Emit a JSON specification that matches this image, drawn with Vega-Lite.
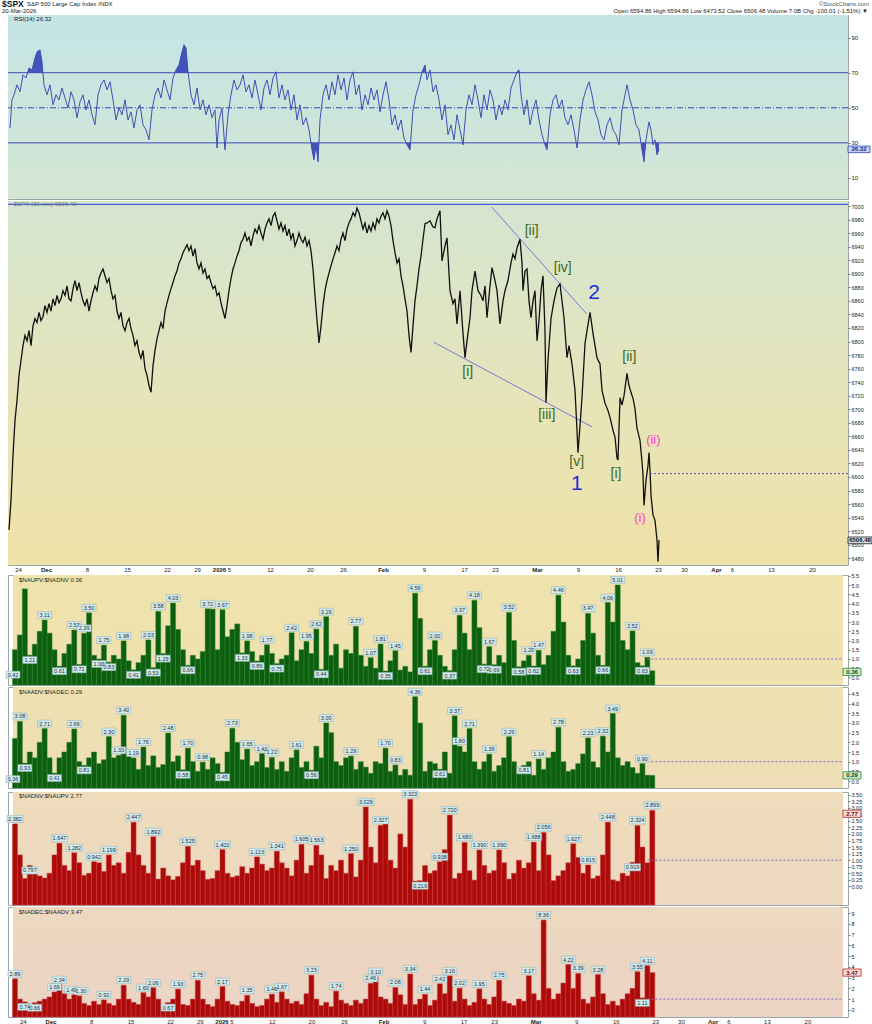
{
"$schema": "https://vega.github.io/schema/vega-lite/v6.json",
"background": "white",
"padding": {"left": 2, "top": 0, "right": 0, "bottom": 0},
"spacing": 0,
"config": {"font": "Liberation Sans", "view": {"stroke": "#98a6a6", "strokeWidth": 1}},
"resolve": {"scale": {"x": "independent", "y": "independent"}},
"datasets": {
"price": [
{"t":0.125,"p":6522},{"t":0.375,"p":6566},{"t":0.625,"p":6632},{"t":0.875,"p":6684},{"t":1.125,"p":6713},{"t":1.375,"p":6750},{"t":1.625,"p":6772},{"t":1.875,"p":6794},{"t":2.125,"p":6809},{"t":2.375,"p":6801},{"t":2.625,"p":6816},{"t":2.875,"p":6794},{"t":3.125,"p":6823},{"t":3.375,"p":6834},{"t":3.625,"p":6828},{"t":3.875,"p":6843},{"t":4.125,"p":6831},{"t":4.375,"p":6837},{"t":4.625,"p":6853},{"t":4.875,"p":6843},{"t":5.125,"p":6856},{"t":5.375,"p":6845},{"t":5.625,"p":6863},{"t":5.875,"p":6853},{"t":6.125,"p":6868},{"t":6.375,"p":6857},{"t":6.625,"p":6863},{"t":6.875,"p":6875},{"t":7.125,"p":6868},{"t":7.375,"p":6882},{"t":7.625,"p":6863},{"t":7.875,"p":6860},{"t":8.125,"p":6878},{"t":8.375,"p":6890},{"t":8.625,"p":6875},{"t":8.875,"p":6887},{"t":9.125,"p":6872},{"t":9.375,"p":6860},{"t":9.625,"p":6853},{"t":9.875,"p":6863},{"t":10.125,"p":6845},{"t":10.375,"p":6860},{"t":10.625,"p":6872},{"t":10.875,"p":6882},{"t":11.125,"p":6875},{"t":11.375,"p":6893},{"t":11.625,"p":6901},{"t":11.875,"p":6907},{"t":12.125,"p":6897},{"t":12.375,"p":6887},{"t":12.625,"p":6893},{"t":12.875,"p":6875},{"t":13.125,"p":6863},{"t":13.375,"p":6868},{"t":13.625,"p":6845},{"t":13.875,"p":6834},{"t":14.125,"p":6843},{"t":14.375,"p":6823},{"t":14.625,"p":6816},{"t":14.875,"p":6828},{"t":15.125,"p":6834},{"t":15.375,"p":6819},{"t":15.625,"p":6809},{"t":15.875,"p":6794},{"t":16.125,"p":6801},{"t":16.375,"p":6784},{"t":16.625,"p":6775},{"t":16.875,"p":6787},{"t":17.125,"p":6760},{"t":17.375,"p":6750},{"t":17.625,"p":6735},{"t":17.875,"p":6725},{"t":18.125,"p":6764},{"t":18.375,"p":6787},{"t":18.625,"p":6804},{"t":18.875,"p":6816},{"t":19.125,"p":6828},{"t":19.375,"p":6819},{"t":19.625,"p":6845},{"t":19.875,"p":6857},{"t":20.125,"p":6868},{"t":20.375,"p":6878},{"t":20.625,"p":6887},{"t":20.875,"p":6897},{"t":21.125,"p":6904},{"t":21.375,"p":6916},{"t":21.625,"p":6922},{"t":21.875,"p":6931},{"t":22.125,"p":6937},{"t":22.375,"p":6943},{"t":22.625,"p":6934},{"t":22.875,"p":6941},{"t":23.125,"p":6926},{"t":23.375,"p":6937},{"t":23.625,"p":6916},{"t":23.875,"p":6907},{"t":24.125,"p":6916},{"t":24.375,"p":6901},{"t":24.625,"p":6907},{"t":24.875,"p":6893},{"t":25.125,"p":6897},{"t":25.375,"p":6887},{"t":25.625,"p":6878},{"t":25.875,"p":6882},{"t":26.125,"p":6868},{"t":26.375,"p":6872},{"t":26.625,"p":6857},{"t":26.875,"p":6845},{"t":27.125,"p":6834},{"t":27.375,"p":6853},{"t":27.625,"p":6875},{"t":27.875,"p":6893},{"t":28.125,"p":6907},{"t":28.375,"p":6916},{"t":28.625,"p":6926},{"t":28.875,"p":6934},{"t":29.125,"p":6946},{"t":29.375,"p":6951},{"t":29.625,"p":6960},{"t":29.875,"p":6949},{"t":30.125,"p":6954},{"t":30.375,"p":6941},{"t":30.625,"p":6956},{"t":30.875,"p":6966},{"t":31.125,"p":6960},{"t":31.375,"p":6971},{"t":31.625,"p":6960},{"t":31.875,"p":6951},{"t":32.125,"p":6966},{"t":32.375,"p":6975},{"t":32.625,"p":6981},{"t":32.875,"p":6971},{"t":33.125,"p":6985},{"t":33.375,"p":6990},{"t":33.625,"p":6978},{"t":33.875,"p":6966},{"t":34.125,"p":6975},{"t":34.375,"p":6963},{"t":34.625,"p":6971},{"t":34.875,"p":6956},{"t":35.125,"p":6966},{"t":35.375,"p":6951},{"t":35.625,"p":6960},{"t":35.875,"p":6941},{"t":36.125,"p":6949},{"t":36.375,"p":6960},{"t":36.625,"p":6951},{"t":36.875,"p":6946},{"t":37.125,"p":6954},{"t":37.375,"p":6941},{"t":37.625,"p":6949},{"t":37.875,"p":6934},{"t":38.125,"p":6907},{"t":38.375,"p":6868},{"t":38.625,"p":6831},{"t":38.875,"p":6798},{"t":39.125,"p":6823},{"t":39.375,"p":6853},{"t":39.625,"p":6875},{"t":39.875,"p":6890},{"t":40.125,"p":6901},{"t":40.375,"p":6912},{"t":40.625,"p":6922},{"t":40.875,"p":6931},{"t":41.125,"p":6941},{"t":41.375,"p":6934},{"t":41.625,"p":6951},{"t":41.875,"p":6960},{"t":42.125,"p":6949},{"t":42.375,"p":6966},{"t":42.625,"p":6975},{"t":42.875,"p":6981},{"t":43.125,"p":6990},{"t":43.375,"p":6985},{"t":43.625,"p":6997},{"t":43.875,"p":6990},{"t":44.125,"p":6978},{"t":44.375,"p":6966},{"t":44.625,"p":6975},{"t":44.875,"p":6960},{"t":45.125,"p":6971},{"t":45.375,"p":6963},{"t":45.625,"p":6975},{"t":45.875,"p":6966},{"t":46.125,"p":6981},{"t":46.375,"p":6975},{"t":46.625,"p":6985},{"t":46.875,"p":6990},{"t":47.125,"p":6981},{"t":47.375,"p":6993},{"t":47.625,"p":6985},{"t":47.875,"p":6971},{"t":48.125,"p":6949},{"t":48.375,"p":6931},{"t":48.625,"p":6916},{"t":48.875,"p":6922},{"t":49.125,"p":6897},{"t":49.375,"p":6882},{"t":49.625,"p":6863},{"t":49.875,"p":6845},{"t":50.125,"p":6809},{"t":50.375,"p":6784},{"t":50.625,"p":6823},{"t":50.875,"p":6860},{"t":51.125,"p":6882},{"t":51.375,"p":6907},{"t":51.625,"p":6926},{"t":51.875,"p":6951},{"t":52.125,"p":6974},{"t":52.375,"p":6975},{"t":52.75,"p":6978},{"t":53.125,"p":6969},{"t":53.375,"p":6968},{"t":53.625,"p":6981},{"t":54.0,"p":6993},{"t":54.25,"p":6919},{"t":54.625,"p":6941},{"t":54.875,"p":6953},{"t":55.25,"p":6875},{"t":55.625,"p":6856},{"t":55.875,"p":6863},{"t":56.125,"p":6826},{"t":56.5,"p":6875},{"t":56.875,"p":6812},{"t":57.125,"p":6776},{"t":57.375,"p":6801},{"t":57.75,"p":6835},{"t":58.0,"p":6875},{"t":58.375,"p":6904},{"t":58.75,"p":6875},{"t":59.125,"p":6868},{"t":59.375,"p":6860},{"t":59.625,"p":6882},{"t":59.875,"p":6835},{"t":60.25,"p":6882},{"t":60.5,"p":6909},{"t":60.875,"p":6890},{"t":61.125,"p":6875},{"t":61.5,"p":6826},{"t":61.875,"p":6860},{"t":62.125,"p":6875},{"t":62.5,"p":6890},{"t":62.875,"p":6916},{"t":63.125,"p":6929},{"t":63.375,"p":6922},{"t":63.625,"p":6938},{"t":64.0,"p":6951},{"t":64.25,"p":6916},{"t":64.375,"p":6875},{"t":64.625,"p":6904},{"t":64.875,"p":6907},{"t":65.125,"p":6860},{"t":65.375,"p":6835},{"t":65.625,"p":6860},{"t":65.875,"p":6875},{"t":66.125,"p":6801},{"t":66.375,"p":6831},{"t":66.625,"p":6875},{"t":66.875,"p":6897},{"t":67.125,"p":6816},{"t":67.25,"p":6710},{"t":67.5,"p":6772},{"t":67.875,"p":6834},{"t":68.25,"p":6860},{"t":68.625,"p":6879},{"t":69.0,"p":6885},{"t":69.25,"p":6860},{"t":69.5,"p":6835},{"t":69.875,"p":6776},{"t":70.125,"p":6794},{"t":70.5,"p":6767},{"t":70.875,"p":6728},{"t":71.125,"p":6669},{"t":71.25,"p":6636},{"t":71.5,"p":6676},{"t":71.75,"p":6717},{"t":72.125,"p":6797},{"t":72.375,"p":6816},{"t":72.75,"p":6843},{"t":73.125,"p":6812},{"t":73.375,"p":6794},{"t":73.625,"p":6776},{"t":74.0,"p":6767},{"t":74.25,"p":6728},{"t":74.625,"p":6709},{"t":75.0,"p":6698},{"t":75.25,"p":6688},{"t":75.625,"p":6669},{"t":75.875,"p":6659},{"t":76.125,"p":6628},{"t":76.25,"p":6625},{"t":76.5,"p":6717},{"t":76.75,"p":6706},{"t":77.0,"p":6720},{"t":77.375,"p":6753},{"t":77.625,"p":6735},{"t":77.875,"p":6725},{"t":78.125,"p":6716},{"t":78.375,"p":6701},{"t":78.625,"p":6672},{"t":79.0,"p":6654},{"t":79.25,"p":6622},{"t":79.375,"p":6603},{"t":79.5,"p":6558},{"t":79.75,"p":6595},{"t":80.0,"p":6617},{"t":80.125,"p":6636},{"t":80.25,"p":6610},{"t":80.375,"p":6573},{"t":80.625,"p":6544},{"t":80.875,"p":6536},{"t":81.125,"p":6507},{"t":81.25,"p":6475},{"t":81.375,"p":6507}
],
"rsi": [
{"t":0.25,"r":38.5},{"t":0.5,"r":54.5},{"t":0.75,"r":57.4},{"t":1.125,"r":63.1},{"t":1.5,"r":59.1},{"t":1.875,"r":68.8},{"t":2.25,"r":67.0},{"t":2.625,"r":72.7},{"t":3.0,"r":71.6},{"t":3.375,"r":78.4},{"t":3.625,"r":81.9},{"t":4.0,"r":83.0},{"t":4.25,"r":76.2},{"t":4.5,"r":63.1},{"t":4.875,"r":57.4},{"t":5.25,"r":63.1},{"t":5.625,"r":51.7},{"t":6.0,"r":57.4},{"t":6.375,"r":54.5},{"t":6.75,"r":61.3},{"t":7.125,"r":55.6},{"t":7.5,"r":49.9},{"t":7.875,"r":59.1},{"t":8.25,"r":54.5},{"t":8.625,"r":44.3},{"t":9.0,"r":53.4},{"t":9.375,"r":57.4},{"t":9.75,"r":48.8},{"t":10.125,"r":54.5},{"t":10.5,"r":46.0},{"t":10.875,"r":40.3},{"t":11.25,"r":57.4},{"t":11.625,"r":63.1},{"t":12.0,"r":65.9},{"t":12.375,"r":60.2},{"t":12.75,"r":64.8},{"t":13.125,"r":54.5},{"t":13.5,"r":43.1},{"t":13.875,"r":49.9},{"t":14.25,"r":46.0},{"t":14.625,"r":54.5},{"t":15.0,"r":43.1},{"t":15.375,"r":47.7},{"t":15.75,"r":38.5},{"t":16.125,"r":48.8},{"t":16.5,"r":51.7},{"t":16.875,"r":40.3},{"t":17.25,"r":37.4},{"t":17.625,"r":31.7},{"t":18.0,"r":48.8},{"t":18.375,"r":57.4},{"t":18.75,"r":61.3},{"t":19.125,"r":55.6},{"t":19.5,"r":65.9},{"t":19.875,"r":60.2},{"t":20.25,"r":54.5},{"t":20.625,"r":67.0},{"t":21.0,"r":71.6},{"t":21.375,"r":74.4},{"t":21.75,"r":81.9},{"t":22.0,"r":85.9},{"t":22.25,"r":84.1},{"t":22.5,"r":70.5},{"t":22.875,"r":57.4},{"t":23.25,"r":51.7},{"t":23.625,"r":61.3},{"t":24.0,"r":48.8},{"t":24.375,"r":54.5},{"t":24.75,"r":46.0},{"t":25.125,"r":51.7},{"t":25.5,"r":44.3},{"t":25.875,"r":48.8},{"t":26.125,"r":27.1},{"t":26.375,"r":43.1},{"t":26.75,"r":49.9},{"t":27.125,"r":26.0},{"t":27.5,"r":46.0},{"t":27.875,"r":57.4},{"t":28.25,"r":65.9},{"t":28.625,"r":60.2},{"t":29.0,"r":63.1},{"t":29.375,"r":68.8},{"t":29.75,"r":59.1},{"t":30.125,"r":63.1},{"t":30.5,"r":55.6},{"t":30.875,"r":65.9},{"t":31.25,"r":57.4},{"t":31.625,"r":48.8},{"t":32.0,"r":61.3},{"t":32.375,"r":65.9},{"t":32.75,"r":57.4},{"t":33.125,"r":67.0},{"t":33.5,"r":70.5},{"t":33.875,"r":55.6},{"t":34.25,"r":63.1},{"t":34.625,"r":54.5},{"t":35.0,"r":60.2},{"t":35.375,"r":48.8},{"t":35.75,"r":57.4},{"t":36.125,"r":43.1},{"t":36.5,"r":51.7},{"t":36.875,"r":40.3},{"t":37.25,"r":44.3},{"t":37.625,"r":37.4},{"t":38.0,"r":26.0},{"t":38.25,"r":20.3},{"t":38.5,"r":28.9},{"t":38.75,"r":19.2},{"t":39.0,"r":43.1},{"t":39.375,"r":57.4},{"t":39.75,"r":63.1},{"t":40.125,"r":54.5},{"t":40.5,"r":64.8},{"t":40.875,"r":57.4},{"t":41.25,"r":68.8},{"t":41.625,"r":60.2},{"t":42.0,"r":67.0},{"t":42.375,"r":54.5},{"t":42.75,"r":65.9},{"t":43.125,"r":70.5},{"t":43.5,"r":57.4},{"t":43.875,"r":63.1},{"t":44.25,"r":48.8},{"t":44.625,"r":57.4},{"t":45.0,"r":51.7},{"t":45.375,"r":61.3},{"t":45.75,"r":54.5},{"t":46.125,"r":60.2},{"t":46.5,"r":47.7},{"t":46.875,"r":57.4},{"t":47.25,"r":64.8},{"t":47.625,"r":54.5},{"t":48.0,"r":40.3},{"t":48.375,"r":46.0},{"t":48.75,"r":37.4},{"t":49.125,"r":43.1},{"t":49.5,"r":32.8},{"t":49.875,"r":28.9},{"t":50.25,"r":26.0},{"t":50.625,"r":48.8},{"t":51.0,"r":57.4},{"t":51.375,"r":63.1},{"t":51.75,"r":70.5},{"t":52.125,"r":74.4},{"t":52.375,"r":65.9},{"t":52.75,"r":71.6},{"t":53.125,"r":59.1},{"t":53.5,"r":63.1},{"t":53.875,"r":54.5},{"t":54.25,"r":43.1},{"t":54.625,"r":51.7},{"t":55.0,"r":34.6},{"t":55.375,"r":40.3},{"t":55.75,"r":31.7},{"t":56.125,"r":46.0},{"t":56.5,"r":37.4},{"t":56.875,"r":28.9},{"t":57.25,"r":48.8},{"t":57.625,"r":57.4},{"t":58.0,"r":51.7},{"t":58.375,"r":63.1},{"t":58.75,"r":54.5},{"t":59.125,"r":44.3},{"t":59.5,"r":57.4},{"t":59.875,"r":48.8},{"t":60.25,"r":60.2},{"t":60.625,"r":54.5},{"t":61.0,"r":43.1},{"t":61.375,"r":51.7},{"t":61.75,"r":46.0},{"t":62.125,"r":54.5},{"t":62.5,"r":48.8},{"t":62.875,"r":61.3},{"t":63.25,"r":65.9},{"t":63.625,"r":70.5},{"t":63.875,"r":71.6},{"t":64.125,"r":57.4},{"t":64.5,"r":46.0},{"t":64.875,"r":54.5},{"t":65.25,"r":40.3},{"t":65.625,"r":48.8},{"t":66.0,"r":54.5},{"t":66.375,"r":43.1},{"t":66.75,"r":34.6},{"t":67.125,"r":28.9},{"t":67.375,"r":26.0},{"t":67.75,"r":46.0},{"t":68.125,"r":54.5},{"t":68.5,"r":57.4},{"t":68.875,"r":49.9},{"t":69.25,"r":54.5},{"t":69.625,"r":44.3},{"t":70.0,"r":40.3},{"t":70.375,"r":46.0},{"t":70.75,"r":37.4},{"t":71.125,"r":27.1},{"t":71.5,"r":43.1},{"t":71.875,"r":54.5},{"t":72.25,"r":60.2},{"t":72.625,"r":64.8},{"t":73.0,"r":57.4},{"t":73.375,"r":47.7},{"t":73.75,"r":43.1},{"t":74.125,"r":34.6},{"t":74.5,"r":31.7},{"t":74.875,"r":40.3},{"t":75.25,"r":44.3},{"t":75.625,"r":37.4},{"t":76.0,"r":34.6},{"t":76.375,"r":28.9},{"t":76.75,"r":48.8},{"t":77.125,"r":57.4},{"t":77.375,"r":63.1},{"t":77.75,"r":54.5},{"t":78.125,"r":48.8},{"t":78.5,"r":40.3},{"t":78.875,"r":37.4},{"t":79.25,"r":26.0},{"t":79.5,"r":19.2},{"t":79.75,"r":31.7},{"t":80.125,"r":42.0},{"t":80.375,"r":37.4},{"t":80.625,"r":28.9},{"t":80.875,"r":31.7},{"t":81.125,"r":23.2},{"t":81.375,"r":26.32}
],
"rsifill": [
{"s":"a","t":2.44,"r":70,"b":70},{"s":"a","t":2.625,"r":72.7,"b":70},{"s":"a","t":3.0,"r":71.6,"b":70},{"s":"a","t":3.375,"r":78.4,"b":70},{"s":"a","t":3.625,"r":81.9,"b":70},{"s":"a","t":4.0,"r":83.0,"b":70},{"s":"a","t":4.25,"r":76.2,"b":70},{"s":"a","t":4.36,"r":70,"b":70},
{"s":"b","t":20.875,"r":70,"b":70},{"s":"b","t":21.0,"r":71.6,"b":70},{"s":"b","t":21.375,"r":74.4,"b":70},{"s":"b","t":21.75,"r":81.9,"b":70},{"s":"b","t":22.0,"r":85.9,"b":70},{"s":"b","t":22.25,"r":84.1,"b":70},{"s":"b","t":22.5,"r":70.5,"b":70},{"s":"b","t":22.51,"r":70,"b":70},
{"s":"c","t":51.72,"r":70,"b":70},{"s":"c","t":51.75,"r":70.5,"b":70},{"s":"c","t":52.125,"r":74.4,"b":70},{"s":"c","t":52.25,"r":70,"b":70},
{"s":"d","t":63.61,"r":70,"b":70},{"s":"d","t":63.625,"r":70.5,"b":70},{"s":"d","t":63.875,"r":71.6,"b":70},{"s":"d","t":63.92,"r":70,"b":70},
{"s":"e","t":26.1,"r":30,"b":30},{"s":"e","t":26.125,"r":27.1,"b":30},{"s":"e","t":26.16,"r":30,"b":30},
{"s":"f","t":27.06,"r":30,"b":30},{"s":"f","t":27.125,"r":26.0,"b":30},{"s":"f","t":27.18,"r":30,"b":30},
{"s":"g","t":37.875,"r":30,"b":30},{"s":"g","t":38.0,"r":26.0,"b":30},{"s":"g","t":38.25,"r":20.3,"b":30},{"s":"g","t":38.5,"r":28.9,"b":30},{"s":"g","t":38.75,"r":19.2,"b":30},{"s":"g","t":38.86,"r":30,"b":30},
{"s":"h","t":49.76,"r":30,"b":30},{"s":"h","t":49.875,"r":28.9,"b":30},{"s":"h","t":50.25,"r":26.0,"b":30},{"s":"h","t":50.31,"r":30,"b":30},
{"s":"i","t":56.83,"r":30,"b":30},{"s":"i","t":56.875,"r":28.9,"b":30},{"s":"i","t":56.91,"r":30,"b":30},
{"s":"j","t":67.05,"r":30,"b":30},{"s":"j","t":67.125,"r":28.9,"b":30},{"s":"j","t":67.375,"r":26.0,"b":30},{"s":"j","t":67.45,"r":30,"b":30},
{"s":"k","t":71.03,"r":30,"b":30},{"s":"k","t":71.125,"r":27.1,"b":30},{"s":"k","t":71.2,"r":30,"b":30},
{"s":"l","t":76.26,"r":30,"b":30},{"s":"l","t":76.375,"r":28.9,"b":30},{"s":"l","t":76.39,"r":30,"b":30},
{"s":"m","t":79.125,"r":30,"b":30},{"s":"m","t":79.25,"r":26.0,"b":30},{"s":"m","t":79.5,"r":19.2,"b":30},{"s":"m","t":79.71,"r":30,"b":30},
{"s":"n","t":80.59,"r":30,"b":30},{"s":"n","t":80.625,"r":28.9,"b":30},{"s":"n","t":80.72,"r":30,"b":30},
{"s":"o","t":80.925,"r":30,"b":30},{"s":"o","t":81.125,"r":23.2,"b":30},{"s":"o","t":81.375,"r":26.32,"b":30}
],
"ind": [
{"t":0.25,"a":1.5,"b":2.2,"c":2.382,"d":2.89},{"t":0.875,"a":2.3,"b":3.08,"c":1.2,"d":1.0},{"t":1.5,"a":4.8,"b":0.93,"c":0.3,"d":0.74},{"t":2.125,"a":1.21,"b":1.5,"c":0.797,"d":0.5},{"t":2.75,"a":1.8,"b":1.2,"c":0.5,"d":0.66},{"t":3.375,"a":2.5,"b":2.0,"c":0.4,"d":0.8},{"t":4.0,"a":3.11,"b":2.71,"c":0.32,"d":1.0},{"t":4.625,"a":2.4,"b":1.2,"c":0.5,"d":1.2},{"t":5.25,"a":1.5,"b":0.41,"c":1.2,"d":1.66},{"t":5.875,"a":0.61,"b":1.2,"c":1.647,"d":2.34},
{"t":6.5,"a":1.3,"b":1.5,"c":0.8,"d":1.5},{"t":7.125,"a":1.8,"b":2.0,"c":0.6,"d":1.0},{"t":7.75,"a":2.57,"b":2.69,"c":1.282,"d":1.4},{"t":8.375,"a":0.71,"b":1.0,"c":0.9,"d":1.3},{"t":9.0,"a":2.39,"b":0.81,"c":0.42,"d":0.6},{"t":9.625,"a":3.5,"b":1.2,"c":0.5,"d":0.4},{"t":10.25,"a":1.2,"b":1.5,"c":0.942,"d":0.8},{"t":10.875,"a":1.0,"b":0.9,"c":0.9,"d":0.5},{"t":11.5,"a":1.75,"b":1.1,"c":0.57,"d":0.92},{"t":12.125,"a":0.83,"b":2.3,"c":1.199,"d":0.6},
{"t":12.75,"a":1.2,"b":1.2,"c":0.8,"d":0.4},{"t":13.375,"a":1.0,"b":1.33,"c":0.9,"d":1.0},{"t":14.0,"a":1.98,"b":3.4,"c":0.5,"d":2.29},{"t":14.625,"a":0.9,"b":1.5,"c":1.3,"d":1.0},{"t":15.25,"a":0.41,"b":1.19,"c":2.447,"d":0.7},{"t":15.875,"a":0.8,"b":0.6,"c":1.2,"d":0.5},{"t":16.5,"a":1.2,"b":1.76,"c":0.8,"d":1.6},{"t":17.125,"a":2.03,"b":0.8,"c":0.5,"d":1.2},{"t":17.75,"a":0.53,"b":1.3,"c":1.892,"d":2.06},{"t":18.375,"a":3.58,"b":0.7,"c":0.28,"d":1.0},
{"t":19.0,"a":1.29,"b":0.85,"c":0.7,"d":0.3},{"t":19.625,"a":2.8,"b":2.48,"c":0.4,"d":0.67},{"t":20.25,"a":4.03,"b":1.0,"c":0.25,"d":1.0},{"t":20.875,"a":2.6,"b":1.3,"c":0.38,"d":1.93},{"t":21.5,"a":1.5,"b":0.58,"c":0.9,"d":0.5},{"t":22.125,"a":0.66,"b":1.7,"c":1.525,"d":0.4},{"t":22.75,"a":1.2,"b":1.0,"c":0.8,"d":1.0},{"t":23.375,"a":1.0,"b":0.5,"c":1.0,"d":2.75},{"t":24.0,"a":1.4,"b":0.98,"c":0.6,"d":1.0},{"t":24.625,"a":3.72,"b":0.6,"c":0.27,"d":0.5},
{"t":25.25,"a":3.7,"b":1.2,"c":0.3,"d":0.3},{"t":25.875,"a":1.5,"b":0.9,"c":0.6,"d":1.0},{"t":26.5,"a":3.67,"b":0.45,"c":1.402,"d":2.17},{"t":27.125,"a":2.2,"b":1.5,"c":0.5,"d":0.8},{"t":27.75,"a":2.6,"b":2.73,"c":0.35,"d":0.5},{"t":28.375,"a":2.9,"b":2.0,"c":0.4,"d":0.4},{"t":29.0,"a":1.33,"b":1.1,"c":0.75,"d":0.8},{"t":29.625,"a":1.98,"b":1.65,"c":0.5,"d":1.35},{"t":30.25,"a":1.4,"b":0.8,"c":0.7,"d":0.6},{"t":30.875,"a":0.89,"b":1.0,"c":1.123,"d":0.3},
{"t":31.5,"a":1.2,"b":1.42,"c":0.85,"d":0.4},{"t":32.125,"a":1.77,"b":0.7,"c":0.6,"d":1.0},{"t":32.75,"a":1.3,"b":1.22,"c":0.7,"d":1.46},{"t":33.375,"a":0.75,"b":0.6,"c":1.341,"d":0.7},{"t":34.0,"a":1.0,"b":1.0,"c":0.9,"d":1.67},{"t":34.625,"a":1.2,"b":0.5,"c":0.7,"d":1.0},{"t":35.25,"a":2.42,"b":1.2,"c":0.4,"d":0.6},{"t":35.875,"a":0.9,"b":1.61,"c":1.0,"d":0.8},{"t":36.5,"a":1.5,"b":0.7,"c":1.605,"d":0.5},{"t":37.125,"a":1.95,"b":1.0,"c":0.5,"d":1.5},
{"t":37.75,"a":1.3,"b":0.56,"c":0.8,"d":3.23},{"t":38.375,"a":2.62,"b":1.8,"c":1.563,"d":1.0},{"t":39.0,"a":0.44,"b":1.2,"c":1.2,"d":0.4},{"t":39.625,"a":3.29,"b":3.0,"c":0.3,"d":0.7},{"t":40.25,"a":1.2,"b":2.5,"c":0.8,"d":0.3},{"t":40.875,"a":1.8,"b":1.0,"c":0.6,"d":1.74},{"t":41.5,"a":0.5,"b":0.8,"c":1.0,"d":0.9},{"t":42.125,"a":1.5,"b":1.2,"c":0.5,"d":0.6},{"t":42.75,"a":1.3,"b":1.29,"c":1.25,"d":0.4},{"t":43.375,"a":2.77,"b":0.6,"c":0.36,"d":0.9},
{"t":44.0,"a":1.2,"b":1.0,"c":1.0,"d":0.6},{"t":44.625,"a":0.6,"b":0.72,"c":3.029,"d":1.0},{"t":45.25,"a":1.07,"b":0.4,"c":1.5,"d":2.46},{"t":45.875,"a":0.5,"b":1.0,"c":0.9,"d":3.1},{"t":46.5,"a":1.81,"b":0.9,"c":2.327,"d":1.2},{"t":47.125,"a":0.35,"b":1.7,"c":2.6,"d":1.0},{"t":47.75,"a":0.9,"b":0.5,"c":1.0,"d":0.6},{"t":48.375,"a":1.45,"b":0.83,"c":0.7,"d":2.08},{"t":49.0,"a":0.4,"b":0.3,"c":2.0,"d":1.4},{"t":49.625,"a":0.6,"b":0.6,"c":1.5,"d":0.5},
{"t":50.25,"a":0.3,"b":0.3,"c":3.323,"d":3.34},{"t":50.875,"a":4.56,"b":4.36,"c":0.2,"d":0.5},{"t":51.5,"a":3.2,"b":3.0,"c":0.219,"d":1.0},{"t":52.125,"a":0.61,"b":0.5,"c":0.797,"d":1.44},{"t":52.75,"a":1.5,"b":1.0,"c":0.5,"d":0.4},{"t":53.375,"a":2.0,"b":0.9,"c":0.6,"d":0.9},{"t":54.0,"a":1.2,"b":0.61,"c":0.938,"d":2.42},{"t":54.625,"a":0.6,"b":1.5,"c":1.4,"d":1.5},{"t":55.25,"a":0.37,"b":0.4,"c":2.72,"d":3.16},{"t":55.875,"a":1.5,"b":3.37,"c":0.3,"d":0.8},
{"t":56.5,"a":3.37,"b":1.8,"c":0.5,"d":2.02},{"t":57.125,"a":2.4,"b":1.5,"c":1.68,"d":1.0},{"t":57.75,"a":1.5,"b":2.71,"c":0.6,"d":0.4},{"t":58.375,"a":4.18,"b":1.0,"c":0.24,"d":0.7},{"t":59.0,"a":2.7,"b":0.6,"c":1.39,"d":1.95},{"t":59.625,"a":0.72,"b":1.0,"c":0.8,"d":1.0},{"t":60.25,"a":1.67,"b":1.39,"c":0.5,"d":0.5},{"t":60.875,"a":0.69,"b":0.5,"c":0.6,"d":1.2},{"t":61.5,"a":1.2,"b":0.8,"c":1.39,"d":2.75},{"t":62.125,"a":0.8,"b":1.2,"c":0.9,"d":0.8},
{"t":62.75,"a":3.52,"b":2.29,"c":0.28,"d":0.6},{"t":63.375,"a":2.0,"b":1.0,"c":0.5,"d":0.4},{"t":64.0,"a":0.58,"b":0.4,"c":1.0,"d":1.0},{"t":64.625,"a":0.9,"b":0.81,"c":0.7,"d":0.8},{"t":65.25,"a":1.2,"b":1.0,"c":0.9,"d":3.17},{"t":65.875,"a":0.62,"b":0.3,"c":1.688,"d":1.5},{"t":66.5,"a":1.47,"b":1.14,"c":0.6,"d":0.9},{"t":67.125,"a":0.69,"b":0.6,"c":2.056,"d":8.36},{"t":67.75,"a":1.2,"b":1.2,"c":1.2,"d":2.0},{"t":68.375,"a":2.5,"b":1.5,"c":0.22,"d":1.0},
{"t":69.0,"a":4.46,"b":2.78,"c":0.4,"d":1.5},{"t":69.625,"a":3.0,"b":1.0,"c":0.6,"d":2.5},{"t":70.25,"a":1.2,"b":0.5,"c":0.9,"d":4.22},{"t":70.875,"a":0.63,"b":0.6,"c":1.627,"d":2.0},{"t":71.5,"a":1.0,"b":0.9,"c":1.1,"d":3.39},{"t":72.125,"a":2.0,"b":1.4,"c":0.5,"d":1.0},{"t":72.75,"a":3.47,"b":2.23,"c":0.815,"d":0.6},{"t":73.375,"a":2.4,"b":1.0,"c":0.3,"d":1.2},{"t":74.0,"a":1.2,"b":0.7,"c":0.4,"d":3.28},{"t":74.625,"a":0.66,"b":2.32,"c":1.2,"d":1.5},
{"t":75.25,"a":4.06,"b":1.5,"c":2.448,"d":0.5},{"t":75.875,"a":3.0,"b":3.49,"c":0.25,"d":0.8},{"t":76.5,"a":5.01,"b":1.2,"c":0.2,"d":0.4},{"t":77.125,"a":2.0,"b":0.8,"c":0.5,"d":1.0},{"t":77.75,"a":1.5,"b":1.0,"c":0.4,"d":1.5},{"t":78.375,"a":2.52,"b":0.7,"c":0.919,"d":2.0},{"t":79.0,"a":0.8,"b":0.4,"c":2.324,"d":3.55},{"t":79.625,"a":0.63,"b":0.9,"c":1.5,"d":1.11},{"t":80.25,"a":1.09,"b":0.3,"c":0.9,"d":4.11},{"t":80.875,"a":0.36,"b":0.29,"c":2.899,"d":3.47}
],
"lab": [
{"p":"a","k":"hi","t":4.0,"v":3.11},{"p":"a","k":"hi","t":7.75,"v":2.57},{"p":"a","k":"hi","t":9.0,"v":2.39},{"p":"a","k":"hi","t":9.625,"v":3.5},{"p":"a","k":"hi","t":11.5,"v":1.75},{"p":"a","k":"hi","t":14.0,"v":1.98},{"p":"a","k":"hi","t":17.125,"v":2.03},{"p":"a","k":"hi","t":18.375,"v":3.58},{"p":"a","k":"hi","t":20.25,"v":4.03},{"p":"a","k":"hi","t":24.625,"v":3.72},{"p":"a","k":"hi","t":26.5,"v":3.67},{"p":"a","k":"hi","t":29.625,"v":1.98},{"p":"a","k":"hi","t":32.125,"v":1.77},{"p":"a","k":"hi","t":35.25,"v":2.42},{"p":"a","k":"hi","t":37.125,"v":1.95},{"p":"a","k":"hi","t":38.375,"v":2.62},{"p":"a","k":"hi","t":39.625,"v":3.29},{"p":"a","k":"hi","t":43.375,"v":2.77},{"p":"a","k":"hi","t":45.25,"v":1.07},{"p":"a","k":"hi","t":46.5,"v":1.81},{"p":"a","k":"hi","t":48.375,"v":1.45},{"p":"a","k":"hi","t":50.875,"v":4.56},{"p":"a","k":"hi","t":53.375,"v":2.0},{"p":"a","k":"hi","t":56.5,"v":3.37},{"p":"a","k":"hi","t":58.375,"v":4.18},{"p":"a","k":"hi","t":60.25,"v":1.67},{"p":"a","k":"hi","t":62.75,"v":3.52},{"p":"a","k":"hi","t":65.25,"v":1.2},{"p":"a","k":"hi","t":66.5,"v":1.47},{"p":"a","k":"hi","t":69.0,"v":4.46},{"p":"a","k":"hi","t":72.75,"v":3.47},{"p":"a","k":"hi","t":75.25,"v":4.06},{"p":"a","k":"hi","t":76.5,"v":5.01},{"p":"a","k":"hi","t":78.375,"v":2.52},{"p":"a","k":"hi","t":80.25,"v":1.09},
{"p":"a","k":"lo","t":0.0,"v":0.42},{"p":"a","k":"lo","t":2.125,"v":1.21},{"p":"a","k":"lo","t":5.875,"v":0.61},{"p":"a","k":"lo","t":8.375,"v":0.71},{"p":"a","k":"lo","t":10.875,"v":1.0},{"p":"a","k":"lo","t":12.125,"v":0.83},{"p":"a","k":"lo","t":15.25,"v":0.41},{"p":"a","k":"lo","t":17.75,"v":0.53},{"p":"a","k":"lo","t":19.0,"v":1.29},{"p":"a","k":"lo","t":22.125,"v":0.66},{"p":"a","k":"lo","t":29.0,"v":1.33},{"p":"a","k":"lo","t":30.875,"v":0.89},{"p":"a","k":"lo","t":33.375,"v":0.75},{"p":"a","k":"lo","t":39.0,"v":0.44},{"p":"a","k":"lo","t":47.125,"v":0.35},{"p":"a","k":"lo","t":52.125,"v":0.61},{"p":"a","k":"lo","t":55.25,"v":0.37},{"p":"a","k":"lo","t":59.625,"v":0.72},{"p":"a","k":"lo","t":60.875,"v":0.69},{"p":"a","k":"lo","t":64.0,"v":0.58},{"p":"a","k":"lo","t":65.875,"v":0.62},{"p":"a","k":"lo","t":70.875,"v":0.63},{"p":"a","k":"lo","t":74.625,"v":0.66},{"p":"a","k":"lo","t":79.625,"v":0.63},
{"p":"b","k":"hi","t":0.875,"v":3.08},{"p":"b","k":"hi","t":4.0,"v":2.71},{"p":"b","k":"hi","t":7.75,"v":2.69},{"p":"b","k":"hi","t":12.125,"v":2.3},{"p":"b","k":"hi","t":13.375,"v":1.33},{"p":"b","k":"hi","t":14.0,"v":3.4},{"p":"b","k":"hi","t":15.25,"v":1.19},{"p":"b","k":"hi","t":16.5,"v":1.76},{"p":"b","k":"hi","t":19.625,"v":2.48},{"p":"b","k":"hi","t":22.125,"v":1.7},{"p":"b","k":"hi","t":24.0,"v":0.98},{"p":"b","k":"hi","t":27.75,"v":2.73},{"p":"b","k":"hi","t":29.625,"v":1.65},{"p":"b","k":"hi","t":31.5,"v":1.42},{"p":"b","k":"hi","t":32.75,"v":1.22},{"p":"b","k":"hi","t":35.875,"v":1.61},{"p":"b","k":"hi","t":39.625,"v":3.0},{"p":"b","k":"hi","t":42.75,"v":1.29},{"p":"b","k":"hi","t":47.125,"v":1.7},{"p":"b","k":"hi","t":48.375,"v":0.83},{"p":"b","k":"hi","t":50.875,"v":4.36},{"p":"b","k":"hi","t":55.875,"v":3.37},{"p":"b","k":"hi","t":56.5,"v":1.8},{"p":"b","k":"hi","t":57.75,"v":2.71},{"p":"b","k":"hi","t":60.25,"v":1.39},{"p":"b","k":"hi","t":62.75,"v":2.29},{"p":"b","k":"hi","t":66.5,"v":1.14},{"p":"b","k":"hi","t":69.0,"v":2.78},{"p":"b","k":"hi","t":72.75,"v":2.23},{"p":"b","k":"hi","t":74.625,"v":2.32},{"p":"b","k":"hi","t":75.875,"v":3.49},{"p":"b","k":"hi","t":79.625,"v":0.9},
{"p":"b","k":"lo","t":0.0,"v":0.36},{"p":"b","k":"lo","t":1.5,"v":0.93},{"p":"b","k":"lo","t":5.25,"v":0.41},{"p":"b","k":"lo","t":9.0,"v":0.81},{"p":"b","k":"lo","t":21.5,"v":0.58},{"p":"b","k":"lo","t":26.5,"v":0.45},{"p":"b","k":"lo","t":37.75,"v":0.56},{"p":"b","k":"lo","t":54.0,"v":0.61},{"p":"b","k":"lo","t":64.625,"v":0.81},
{"p":"c","k":"hi","t":0.25,"v":2.382},{"p":"c","k":"hi","t":5.875,"v":1.647},{"p":"c","k":"hi","t":7.75,"v":1.282},{"p":"c","k":"hi","t":10.25,"v":0.942},{"p":"c","k":"hi","t":12.125,"v":1.199},{"p":"c","k":"hi","t":15.25,"v":2.447},{"p":"c","k":"hi","t":17.75,"v":1.892},{"p":"c","k":"hi","t":22.125,"v":1.525},{"p":"c","k":"hi","t":26.5,"v":1.402},{"p":"c","k":"hi","t":30.875,"v":1.123},{"p":"c","k":"hi","t":33.375,"v":1.341},{"p":"c","k":"hi","t":36.5,"v":1.605},{"p":"c","k":"hi","t":38.375,"v":1.563},{"p":"c","k":"hi","t":42.75,"v":1.25},{"p":"c","k":"hi","t":44.625,"v":3.029},{"p":"c","k":"hi","t":46.5,"v":2.327},{"p":"c","k":"hi","t":50.25,"v":3.323},{"p":"c","k":"hi","t":54.0,"v":0.938},{"p":"c","k":"hi","t":55.25,"v":2.72},{"p":"c","k":"hi","t":57.125,"v":1.68},{"p":"c","k":"hi","t":59.0,"v":1.39},{"p":"c","k":"hi","t":61.5,"v":1.39},{"p":"c","k":"hi","t":65.875,"v":1.688},{"p":"c","k":"hi","t":67.125,"v":2.056},{"p":"c","k":"hi","t":70.875,"v":1.627},{"p":"c","k":"hi","t":72.75,"v":0.815},{"p":"c","k":"hi","t":75.25,"v":2.448},{"p":"c","k":"hi","t":79.0,"v":2.324},{"p":"c","k":"hi","t":80.875,"v":2.899},
{"p":"c","k":"lo","t":2.125,"v":0.797},{"p":"c","k":"lo","t":51.5,"v":0.219},{"p":"c","k":"lo","t":78.375,"v":0.919},
{"p":"d","k":"hi","t":0.25,"v":2.89},{"p":"d","k":"hi","t":5.25,"v":1.66},{"p":"d","k":"hi","t":5.875,"v":2.34},{"p":"d","k":"hi","t":7.4,"v":1.4},{"p":"d","k":"hi","t":8.6,"v":1.3},{"p":"d","k":"hi","t":11.5,"v":0.92},{"p":"d","k":"hi","t":14.0,"v":2.29},{"p":"d","k":"hi","t":16.5,"v":1.6},{"p":"d","k":"hi","t":17.75,"v":2.06},{"p":"d","k":"hi","t":20.875,"v":1.93},{"p":"d","k":"hi","t":23.375,"v":2.75},{"p":"d","k":"hi","t":26.5,"v":2.17},{"p":"d","k":"hi","t":29.625,"v":1.35},{"p":"d","k":"hi","t":32.75,"v":1.46},{"p":"d","k":"hi","t":34.0,"v":1.67},{"p":"d","k":"hi","t":37.75,"v":3.23},{"p":"d","k":"hi","t":40.875,"v":1.74},{"p":"d","k":"hi","t":45.25,"v":2.46},{"p":"d","k":"hi","t":45.875,"v":3.1},{"p":"d","k":"hi","t":48.375,"v":2.08},{"p":"d","k":"hi","t":50.25,"v":3.34},{"p":"d","k":"hi","t":52.125,"v":1.44},{"p":"d","k":"hi","t":54.0,"v":2.42},{"p":"d","k":"hi","t":55.25,"v":3.16},{"p":"d","k":"hi","t":56.5,"v":2.02},{"p":"d","k":"hi","t":59.0,"v":1.95},{"p":"d","k":"hi","t":61.5,"v":2.75},{"p":"d","k":"hi","t":65.25,"v":3.17},{"p":"d","k":"hi","t":67.125,"v":8.36},{"p":"d","k":"hi","t":70.25,"v":4.22},{"p":"d","k":"hi","t":71.5,"v":3.39},{"p":"d","k":"hi","t":74.0,"v":3.28},{"p":"d","k":"hi","t":79.0,"v":3.55},{"p":"d","k":"hi","t":80.25,"v":4.11},
{"p":"d","k":"lo","t":1.5,"v":0.74},{"p":"d","k":"lo","t":2.75,"v":0.66},{"p":"d","k":"lo","t":19.625,"v":0.67},{"p":"d","k":"lo","t":79.625,"v":1.11}
],
"ann": [
{"t":65.46,"p":6963,"label":"[ii]","deg":"minor"},{"t":69.34,"p":6908,"label":"[iv]","deg":"minor"},{"t":57.46,"p":6755,"label":"[i]","deg":"minor"},{"t":67.34,"p":6691,"label":"[iii]","deg":"minor"},{"t":71.09,"p":6622,"label":"[v]","deg":"minor"},{"t":77.66,"p":6777,"label":"[ii]","deg":"minor"},{"t":76.0,"p":6604,"label":"[i]","deg":"minor"},
{"t":73.25,"p":6872,"label":"2","deg":"intermediate"},{"t":71.09,"p":6590,"label":"1","deg":"intermediate"},
{"t":80.67,"p":6654,"label":"(ii)","deg":"minute"},{"t":79.0,"p":6540,"label":"(i)","deg":"minute"}
],
"trend": [
{"s":"upper","t":60.46,"p":6998.6},{"s":"upper","t":72.34,"p":6840.6},{"s":"lower","t":53.25,"p":6798.8},{"s":"lower","t":73.04,"p":6673.7}
]
},
"vconcat": [
{
"width": 840, "height": 12, "view": {"stroke": null},
"data": {"values": [{}]},
"layer": [
{"mark": {"type": "text", "text": "$SPX", "align": "left", "baseline": "middle", "dx": -6, "dy": -2, "fontSize": 8.5, "fontWeight": "bold", "color": "#111"},
 "encoding": {"x": {"datum": 0, "type": "quantitative", "scale": {"domain": [0, 105], "nice": false, "zero": false}, "axis": null}}},
{"mark": {"type": "text", "text": "S&P 500 Large Cap Index  INDX", "align": "left", "baseline": "middle", "dx": 19, "dy": -2, "fontSize": 6, "color": "#222"},
 "encoding": {"x": {"datum": 0, "type": "quantitative", "axis": null}}},
{"mark": {"type": "text", "text": "20-Mar-2026", "align": "left", "baseline": "middle", "dx": -6, "dy": 5, "fontSize": 6, "color": "#222"},
 "encoding": {"x": {"datum": 0, "type": "quantitative", "axis": null}}},
{"mark": {"type": "text", "text": "©StockCharts.com", "align": "right", "baseline": "middle", "dx": 21, "dy": -2, "fontSize": 6, "color": "#555"},
 "encoding": {"x": {"datum": 105, "type": "quantitative", "axis": null}}},
{"mark": {"type": "text", "text": "Open 6594.86  High 6594.86  Low 6473.52  Close 6506.48  Volume 7.0B  Chg -100.01 (-1.51%) ▼", "align": "right", "baseline": "middle", "dx": 20, "dy": 5, "fontSize": 6, "color": "#222"},
 "encoding": {"x": {"datum": 105, "type": "quantitative", "axis": null}}}
]
},
{
"width": 840, "height": 184,
"data": {"values": [{}]},
"layer": [
{"mark": {"type": "rect", "fill": {"gradient": "linear", "x1": 0, "y1": 0, "x2": 0, "y2": 1, "stops": [{"offset": 0, "color": "#c4e4e5"}, {"offset": 1, "color": "#d3e6d3"}]}},
 "encoding": {
  "x": {"datum": 0, "type": "quantitative", "scale": {"domain": [0, 105], "nice": false, "zero": false}, "axis": null},
  "x2": {"datum": 105},
  "y": {"datum": -2, "type": "quantitative", "scale": {"domain": [-2, 102.9], "nice": false, "zero": false},
        "axis": {"orient": "right", "values": [10, 30, 50, 70, 90], "tickCount": 100, "title": null, "labelFontSize": 6, "labelColor": "#222", "tickSize": 2, "tickColor": "#777", "domain": false, "grid": false, "labelPadding": 1, "labelOverlap": false}},
  "y2": {"datum": 102.9}}},
{"mark": {"type": "rule", "color": "#3c49b8", "strokeWidth": 1}, "encoding": {"y": {"datum": 70, "type": "quantitative"}}},
{"mark": {"type": "rule", "color": "#3c49b8", "strokeWidth": 1}, "encoding": {"y": {"datum": 30, "type": "quantitative"}}},
{"mark": {"type": "rule", "color": "#3c49b8", "strokeWidth": 1, "strokeDash": [6, 2, 1, 2]}, "encoding": {"y": {"datum": 50, "type": "quantitative"}}},
{"data": {"name": "rsifill"},
 "mark": {"type": "area", "color": "#3d4ab8", "opacity": 0.95},
 "encoding": {"x": {"field": "t", "type": "quantitative", "axis": null}, "y": {"field": "r", "type": "quantitative"}, "y2": {"field": "b"}, "detail": {"field": "s"}}},
{"data": {"name": "rsi"},
 "mark": {"type": "line", "color": "#3f4fb4", "strokeWidth": 1},
 "encoding": {"x": {"field": "t", "type": "quantitative", "axis": null}, "y": {"field": "r", "type": "quantitative"}}},
{"mark": {"type": "text", "text": "RSI(14) 26.32", "align": "left", "baseline": "middle", "dx": 6, "fontSize": 6, "color": "#223"},
 "encoding": {"x": {"datum": 0, "type": "quantitative", "axis": null}, "y": {"datum": 100.4, "type": "quantitative"}}},
{"mark": {"type": "point", "shape": "M-1,-0.3L1,-0.3L1,0.3L-1,0.3Z", "size": 484, "filled": true, "fill": "#c7d3f2", "stroke": "#3344bb", "strokeWidth": 0.8, "opacity": 1, "xOffset": 11},
 "encoding": {"x": {"datum": 105, "type": "quantitative", "axis": null}, "y": {"datum": 26.32, "type": "quantitative"}}},
{"mark": {"type": "text", "text": "26.32", "align": "center", "baseline": "middle", "dx": 11, "fontSize": 6, "fontWeight": "bold", "color": "#1a2a9a"},
 "encoding": {"x": {"datum": 105, "type": "quantitative", "axis": null}, "y": {"datum": 26.32, "type": "quantitative"}}}
]
},
{
"width": 840, "height": 364,
"data": {"values": [{}]},
"layer": [
{"mark": {"type": "rect", "fill": {"gradient": "linear", "x1": 0, "y1": 0, "x2": 0, "y2": 1, "stops": [{"offset": 0, "color": "#d4e5d0"}, {"offset": 0.55, "color": "#e6e4b9"}, {"offset": 1, "color": "#f0e2a8"}]}},
 "encoding": {
  "x": {"datum": 0, "type": "quantitative", "scale": {"domain": [0, 105], "nice": false, "zero": false},
        "axis": {"orient": "bottom", "title": null, "tickCount": 100, "values": [1.25, 4.75, 9.875, 14.875, 19.875, 23.625, 26.375, 27.625, 32.75, 37.75, 41.875, 46.875, 52, 57, 60.875, 66.125, 71.25, 76.25, 81.25, 84.5, 88.5, 90.5, 95.375, 100.5],
                 "labelExpr": "['24','Dec','8','15','22','29','2026','5','12','20','26','Feb','9','17','23','Mar','9','16','23','30','Apr','6','13','20'][indexof([1.25, 4.75, 9.875, 14.875, 19.875, 23.625, 26.375, 27.625, 32.75, 37.75, 41.875, 46.875, 52, 57, 60.875, 66.125, 71.25, 76.25, 81.25, 84.5, 88.5, 90.5, 95.375, 100.5], datum.value)]",
                 "labelFontWeight": {"condition": {"test": "indexof([4.75, 26.375, 46.875, 66.125, 88.5], datum.value) >= 0", "value": "bold"}, "value": "normal"},
                 "labelFontSize": 6, "labelColor": "#222", "ticks": false, "domain": false, "grid": false, "labelPadding": 1, "labelOverlap": false, "labelFlush": false}},
  "x2": {"datum": 105},
  "y": {"datum": 6470.1, "type": "quantitative", "scale": {"domain": [6470.1, 7007.4], "nice": false, "zero": false},
        "axis": {"orient": "right", "tickCount": 100, "values": [6480, 6500, 6520, 6540, 6560, 6580, 6600, 6620, 6640, 6660, 6680, 6700, 6720, 6740, 6760, 6780, 6800, 6820, 6840, 6860, 6880, 6900, 6920, 6940, 6960, 6980, 7000], "format": "d", "title": null, "labelFontSize": 5.5, "labelColor": "#222", "tickSize": 2, "tickColor": "#777", "domain": false, "grid": false, "labelPadding": 1, "labelOverlap": false}},
  "y2": {"datum": 7007.4}}},
{"mark": {"type": "rule", "color": "#4a5ad8", "strokeWidth": 1.2}, "encoding": {"y": {"datum": 7002.5, "type": "quantitative"}}},
{"mark": {"type": "text", "text": "$SPX (30 min) 6506.40", "align": "left", "baseline": "middle", "dx": 6, "fontSize": 6, "color": "#777"},
 "encoding": {"x": {"datum": 0, "type": "quantitative"}, "y": {"datum": 7002.5, "type": "quantitative"}}},
{"data": {"name": "trend"},
 "mark": {"type": "line", "color": "#7579d9", "strokeWidth": 1},
 "encoding": {"x": {"field": "t", "type": "quantitative"}, "y": {"field": "p", "type": "quantitative"}, "detail": {"field": "s"}}},
{"data": {"name": "price"},
 "mark": {"type": "line", "color": "#111", "strokeWidth": 1.3},
 "encoding": {"x": {"field": "t", "type": "quantitative"}, "y": {"field": "p", "type": "quantitative"}}},
{"mark": {"type": "rule", "color": "#5050d0", "strokeWidth": 1, "strokeDash": [2, 2]},
 "encoding": {"x": {"datum": 80.25, "type": "quantitative"}, "x2": {"datum": 105}, "y": {"datum": 6605, "type": "quantitative"}}},
{"data": {"name": "ann"}, "transform": [{"filter": "datum.deg == 'minor'"}],
 "mark": {"type": "text", "fontSize": 14, "color": "#3d6a21", "baseline": "middle", "align": "center"},
 "encoding": {"x": {"field": "t", "type": "quantitative"}, "y": {"field": "p", "type": "quantitative"}, "text": {"field": "label"}}},
{"data": {"name": "ann"}, "transform": [{"filter": "datum.deg == 'intermediate'"}],
 "mark": {"type": "text", "fontSize": 21, "color": "#1d2fd8", "baseline": "middle", "align": "center"},
 "encoding": {"x": {"field": "t", "type": "quantitative"}, "y": {"field": "p", "type": "quantitative"}, "text": {"field": "label"}}},
{"data": {"name": "ann"}, "transform": [{"filter": "datum.deg == 'minute'"}],
 "mark": {"type": "text", "fontSize": 13, "color": "#ff40d0", "baseline": "middle", "align": "center"},
 "encoding": {"x": {"field": "t", "type": "quantitative"}, "y": {"field": "p", "type": "quantitative"}, "text": {"field": "label"}}},
{"mark": {"type": "point", "shape": "M-1,-0.28L1,-0.28L1,0.28L-1,0.28Z", "size": 576, "filled": true, "fill": "#d6dde6", "stroke": "#222", "strokeWidth": 0.8, "opacity": 1, "xOffset": 12},
 "encoding": {"x": {"datum": 105, "type": "quantitative"}, "y": {"datum": 6506.48, "type": "quantitative"}}},
{"mark": {"type": "text", "text": "6506.48", "align": "center", "baseline": "middle", "dx": 12, "fontSize": 6, "fontWeight": "bold", "color": "#111"},
 "encoding": {"x": {"datum": 105, "type": "quantitative"}, "y": {"datum": 6506.48, "type": "quantitative"}}}
]
},
{
"width": 840, "height": 110,
"data": {"values": [{}]},
"layer": [
{"mark": {"type": "rect", "fill": {"gradient": "linear", "x1": 0, "y1": 0, "x2": 0, "y2": 1, "stops": [{"offset": 0, "color": "#efe3ac"}, {"offset": 1, "color": "#efe1b0"}]}},
 "encoding": {
  "x": {"datum": 0, "type": "quantitative", "scale": {"domain": [0, 105], "nice": false, "zero": false}, "axis": null},
  "x2": {"datum": 105},
  "y": {"datum": -0.41, "type": "quantitative", "scale": {"domain": [-0.41, 5.55], "nice": false, "zero": false},
        "axis": {"orient": "right", "tickCount": 100, "values": [0, 0.5, 1, 1.5, 2, 2.5, 3, 3.5, 4, 4.5, 5, 5.5], "format": ".1f", "title": null, "labelFontSize": 5.5, "labelColor": "#222", "tickSize": 2, "tickColor": "#777", "domain": false, "grid": false, "labelPadding": 1, "labelOverlap": false}},
  "y2": {"datum": 5.55}}},
{"data": {"name": "ind"},
 "mark": {"type": "bar", "color": "#0d5e0f", "size": 5, "stroke": "#2f8a2f", "strokeWidth": 0.5},
 "encoding": {"x": {"field": "t", "type": "quantitative", "axis": null}, "y": {"field": "a", "type": "quantitative"}, "y2": {"datum": -0.41}}},
{"mark": {"type": "rule", "color": "#7a6ad0", "strokeWidth": 1, "strokeDash": [2, 2]},
 "encoding": {"x": {"datum": 80.25, "type": "quantitative", "axis": null}, "x2": {"datum": 105}, "y": {"datum": 1, "type": "quantitative"}}},
{"data": {"name": "lab"}, "transform": [{"filter": "datum.p == 'a' && datum.k == 'hi'"}],
 "mark": {"type": "point", "shape": "M-1,-0.5L1,-0.5L1,0.5L-1,0.5Z", "size": 196, "filled": true, "fill": "#d2e9ec", "stroke": "#8aaeb4", "strokeWidth": 0.5, "opacity": 1, "yOffset": -5},
 "encoding": {"x": {"field": "t", "type": "quantitative", "axis": null}, "y": {"field": "v", "type": "quantitative"}}},
{"data": {"name": "lab"}, "transform": [{"filter": "datum.p == 'a' && datum.k == 'hi'"}],
 "mark": {"type": "text", "fontSize": 5.5, "color": "#1d3340", "baseline": "middle", "align": "center", "dy": -5},
 "encoding": {"x": {"field": "t", "type": "quantitative", "axis": null}, "y": {"field": "v", "type": "quantitative"}, "text": {"field": "v", "format": ".2f"}}},
{"data": {"name": "lab"}, "transform": [{"filter": "datum.p == 'a' && datum.k == 'lo'"}],
 "mark": {"type": "point", "shape": "M-1,-0.5L1,-0.5L1,0.5L-1,0.5Z", "size": 196, "filled": true, "fill": "#d2e9ec", "stroke": "#8aaeb4", "strokeWidth": 0.5, "opacity": 1, "yOffset": 5},
 "encoding": {"x": {"field": "t", "type": "quantitative", "axis": null}, "y": {"field": "v", "type": "quantitative"}}},
{"data": {"name": "lab"}, "transform": [{"filter": "datum.p == 'a' && datum.k == 'lo'"}],
 "mark": {"type": "text", "fontSize": 5.5, "color": "#1d3340", "baseline": "middle", "align": "center", "dy": 5},
 "encoding": {"x": {"field": "t", "type": "quantitative", "axis": null}, "y": {"field": "v", "type": "quantitative"}, "text": {"field": "v", "format": ".2f"}}},
{"mark": {"type": "text", "text": "$NAUPV:$NADNV 0.36", "align": "left", "baseline": "middle", "dx": 6, "fontSize": 6, "color": "#222"},
 "encoding": {"x": {"datum": 0, "type": "quantitative", "axis": null}, "y": {"datum": 5.3, "type": "quantitative"}}},
{"mark": {"type": "point", "shape": "M-1,-0.4L1,-0.4L1,0.4L-1,0.4Z", "size": 324, "filled": true, "fill": "#cfe8d0", "stroke": "#2a8a2a", "strokeWidth": 0.8, "opacity": 1, "xOffset": 9},
 "encoding": {"x": {"datum": 105, "type": "quantitative", "axis": null}, "y": {"datum": 0.3, "type": "quantitative"}}},
{"mark": {"type": "text", "text": "0.36", "align": "center", "baseline": "middle", "dx": 9, "fontSize": 6, "fontWeight": "bold", "color": "#0d4e10"},
 "encoding": {"x": {"datum": 105, "type": "quantitative", "axis": null}, "y": {"datum": 0.3, "type": "quantitative"}}}
]
},
{
"width": 840, "height": 101,
"data": {"values": [{}]},
"layer": [
{"mark": {"type": "rect", "fill": {"gradient": "linear", "x1": 0, "y1": 0, "x2": 0, "y2": 1, "stops": [{"offset": 0, "color": "#efe0b1"}, {"offset": 1, "color": "#eeddb7"}]}},
 "encoding": {
  "x": {"datum": 0, "type": "quantitative", "scale": {"domain": [0, 105], "nice": false, "zero": false}, "axis": null},
  "x2": {"datum": 105},
  "y": {"datum": -0.36, "type": "quantitative", "scale": {"domain": [-0.36, 4.86], "nice": false, "zero": false},
        "axis": {"orient": "right", "tickCount": 100, "values": [0, 0.5, 1, 1.5, 2, 2.5, 3, 3.5, 4, 4.5], "format": ".1f", "title": null, "labelFontSize": 5.5, "labelColor": "#222", "tickSize": 2, "tickColor": "#777", "domain": false, "grid": false, "labelPadding": 1, "labelOverlap": false}},
  "y2": {"datum": 4.86}}},
{"data": {"name": "ind"},
 "mark": {"type": "bar", "color": "#0d5e0f", "size": 5, "stroke": "#2f8a2f", "strokeWidth": 0.5},
 "encoding": {"x": {"field": "t", "type": "quantitative", "axis": null}, "y": {"field": "b", "type": "quantitative"}, "y2": {"datum": -0.36}}},
{"mark": {"type": "rule", "color": "#7a6ad0", "strokeWidth": 1, "strokeDash": [2, 2]},
 "encoding": {"x": {"datum": 80.25, "type": "quantitative", "axis": null}, "x2": {"datum": 105}, "y": {"datum": 1, "type": "quantitative"}}},
{"data": {"name": "lab"}, "transform": [{"filter": "datum.p == 'b' && datum.k == 'hi'"}],
 "mark": {"type": "point", "shape": "M-1,-0.5L1,-0.5L1,0.5L-1,0.5Z", "size": 196, "filled": true, "fill": "#d2e9ec", "stroke": "#8aaeb4", "strokeWidth": 0.5, "opacity": 1, "yOffset": -5},
 "encoding": {"x": {"field": "t", "type": "quantitative", "axis": null}, "y": {"field": "v", "type": "quantitative"}}},
{"data": {"name": "lab"}, "transform": [{"filter": "datum.p == 'b' && datum.k == 'hi'"}],
 "mark": {"type": "text", "fontSize": 5.5, "color": "#1d3340", "baseline": "middle", "align": "center", "dy": -5},
 "encoding": {"x": {"field": "t", "type": "quantitative", "axis": null}, "y": {"field": "v", "type": "quantitative"}, "text": {"field": "v", "format": ".2f"}}},
{"data": {"name": "lab"}, "transform": [{"filter": "datum.p == 'b' && datum.k == 'lo'"}],
 "mark": {"type": "point", "shape": "M-1,-0.5L1,-0.5L1,0.5L-1,0.5Z", "size": 196, "filled": true, "fill": "#d2e9ec", "stroke": "#8aaeb4", "strokeWidth": 0.5, "opacity": 1, "yOffset": 5},
 "encoding": {"x": {"field": "t", "type": "quantitative", "axis": null}, "y": {"field": "v", "type": "quantitative"}}},
{"data": {"name": "lab"}, "transform": [{"filter": "datum.p == 'b' && datum.k == 'lo'"}],
 "mark": {"type": "text", "fontSize": 5.5, "color": "#1d3340", "baseline": "middle", "align": "center", "dy": 5},
 "encoding": {"x": {"field": "t", "type": "quantitative", "axis": null}, "y": {"field": "v", "type": "quantitative"}, "text": {"field": "v", "format": ".2f"}}},
{"mark": {"type": "text", "text": "$NAADV:$NADEC 0.29", "align": "left", "baseline": "middle", "dx": 6, "fontSize": 6, "color": "#222"},
 "encoding": {"x": {"datum": 0, "type": "quantitative", "axis": null}, "y": {"datum": 4.62, "type": "quantitative"}}},
{"mark": {"type": "point", "shape": "M-1,-0.4L1,-0.4L1,0.4L-1,0.4Z", "size": 324, "filled": true, "fill": "#cfe8d0", "stroke": "#2a8a2a", "strokeWidth": 0.8, "opacity": 1, "xOffset": 9},
 "encoding": {"x": {"datum": 105, "type": "quantitative", "axis": null}, "y": {"datum": 0.29, "type": "quantitative"}}},
{"mark": {"type": "text", "text": "0.29", "align": "center", "baseline": "middle", "dx": 9, "fontSize": 6, "fontWeight": "bold", "color": "#0d4e10"},
 "encoding": {"x": {"datum": 105, "type": "quantitative", "axis": null}, "y": {"datum": 0.29, "type": "quantitative"}}}
]
},
{
"width": 840, "height": 113,
"data": {"values": [{}]},
"layer": [
{"mark": {"type": "rect", "fill": {"gradient": "linear", "x1": 0, "y1": 0, "x2": 0, "y2": 1, "stops": [{"offset": 0, "color": "#eedcbb"}, {"offset": 1, "color": "#edd9c0"}]}},
 "encoding": {
  "x": {"datum": 0, "type": "quantitative", "scale": {"domain": [0, 105], "nice": false, "zero": false}, "axis": null},
  "x2": {"datum": 105},
  "y": {"datum": -0.71, "type": "quantitative", "scale": {"domain": [-0.71, 3.6], "nice": false, "zero": false},
        "axis": {"orient": "right", "tickCount": 100, "values": [0, 0.25, 0.5, 0.75, 1, 1.25, 1.5, 1.75, 2, 2.25, 2.5, 2.75, 3, 3.25, 3.5], "format": ".2f", "title": null, "labelFontSize": 5.5, "labelColor": "#222", "tickSize": 2, "tickColor": "#777", "domain": false, "grid": false, "labelPadding": 1, "labelOverlap": false}},
  "y2": {"datum": 3.6}}},
{"data": {"name": "ind"},
 "mark": {"type": "bar", "color": "#ad0a0a", "size": 5, "stroke": "#d04040", "strokeWidth": 0.5},
 "encoding": {"x": {"field": "t", "type": "quantitative", "axis": null}, "y": {"field": "c", "type": "quantitative"}, "y2": {"datum": -0.71}}},
{"mark": {"type": "rule", "color": "#7a6ad0", "strokeWidth": 1, "strokeDash": [2, 2]},
 "encoding": {"x": {"datum": 80.25, "type": "quantitative", "axis": null}, "x2": {"datum": 105}, "y": {"datum": 1, "type": "quantitative"}}},
{"data": {"name": "lab"}, "transform": [{"filter": "datum.p == 'c' && datum.k == 'hi'"}],
 "mark": {"type": "point", "shape": "M-1,-0.45L1,-0.45L1,0.45L-1,0.45Z", "size": 256, "filled": true, "fill": "#d2e9ec", "stroke": "#8aaeb4", "strokeWidth": 0.5, "opacity": 1, "yOffset": -5},
 "encoding": {"x": {"field": "t", "type": "quantitative", "axis": null}, "y": {"field": "v", "type": "quantitative"}}},
{"data": {"name": "lab"}, "transform": [{"filter": "datum.p == 'c' && datum.k == 'hi'"}],
 "mark": {"type": "text", "fontSize": 5.5, "color": "#1d3340", "baseline": "middle", "align": "center", "dy": -5},
 "encoding": {"x": {"field": "t", "type": "quantitative", "axis": null}, "y": {"field": "v", "type": "quantitative"}, "text": {"field": "v", "format": ".3f"}}},
{"data": {"name": "lab"}, "transform": [{"filter": "datum.p == 'c' && datum.k == 'lo'"}],
 "mark": {"type": "point", "shape": "M-1,-0.45L1,-0.45L1,0.45L-1,0.45Z", "size": 256, "filled": true, "fill": "#d2e9ec", "stroke": "#8aaeb4", "strokeWidth": 0.5, "opacity": 1, "yOffset": 5},
 "encoding": {"x": {"field": "t", "type": "quantitative", "axis": null}, "y": {"field": "v", "type": "quantitative"}}},
{"data": {"name": "lab"}, "transform": [{"filter": "datum.p == 'c' && datum.k == 'lo'"}],
 "mark": {"type": "text", "fontSize": 5.5, "color": "#1d3340", "baseline": "middle", "align": "center", "dy": 5},
 "encoding": {"x": {"field": "t", "type": "quantitative", "axis": null}, "y": {"field": "v", "type": "quantitative"}, "text": {"field": "v", "format": ".3f"}}},
{"mark": {"type": "text", "text": "$NADNV:$NAUPV 2.77", "align": "left", "baseline": "middle", "dx": 6, "fontSize": 6, "color": "#222"},
 "encoding": {"x": {"datum": 0, "type": "quantitative", "axis": null}, "y": {"datum": 3.44, "type": "quantitative"}}},
{"mark": {"type": "point", "shape": "M-1,-0.4L1,-0.4L1,0.4L-1,0.4Z", "size": 324, "filled": true, "fill": "#f6dede", "stroke": "#c02020", "strokeWidth": 0.8, "opacity": 1, "xOffset": 9},
 "encoding": {"x": {"datum": 105, "type": "quantitative", "axis": null}, "y": {"datum": 2.77, "type": "quantitative"}}},
{"mark": {"type": "text", "text": "2.77", "align": "center", "baseline": "middle", "dx": 9, "fontSize": 6, "fontWeight": "bold", "color": "#6a0a0a"},
 "encoding": {"x": {"datum": 105, "type": "quantitative", "axis": null}, "y": {"datum": 2.77, "type": "quantitative"}}}
]
},
{
"width": 840, "height": 110,
"data": {"values": [{}]},
"layer": [
{"mark": {"type": "rect", "fill": {"gradient": "linear", "x1": 0, "y1": 0, "x2": 0, "y2": 1, "stops": [{"offset": 0, "color": "#edd8c0"}, {"offset": 1, "color": "#ebd4c4"}]}},
 "encoding": {
  "x": {"datum": 0, "type": "quantitative", "scale": {"domain": [0, 105], "nice": false, "zero": false},
        "axis": {"orient": "bottom", "title": null, "tickCount": 100, "values": [1.25, 4.75, 9.875, 14.875, 19.875, 23.625, 26.375, 27.625, 32.75, 37.75, 41.875, 46.875, 52, 57, 60.875, 66.125, 71.25, 76.25, 81.25, 84.5, 88.5, 90.5, 95.375, 100.5],
                 "labelExpr": "['24','Dec','8','15','22','29','2026','5','12','20','26','Feb','9','17','23','Mar','9','16','23','30','Apr','6','13','20'][indexof([1.25, 4.75, 9.875, 14.875, 19.875, 23.625, 26.375, 27.625, 32.75, 37.75, 41.875, 46.875, 52, 57, 60.875, 66.125, 71.25, 76.25, 81.25, 84.5, 88.5, 90.5, 95.375, 100.5], datum.value)]",
                 "labelFontWeight": {"condition": {"test": "indexof([4.75, 26.375, 46.875, 66.125, 88.5], datum.value) >= 0", "value": "bold"}, "value": "normal"},
                 "labelFontSize": 6, "labelColor": "#222", "ticks": false, "domain": false, "grid": false, "labelPadding": 1, "labelOverlap": false, "labelFlush": false}},
  "x2": {"datum": 105},
  "y": {"datum": -0.67, "type": "quantitative", "scale": {"domain": [-0.67, 9.58], "nice": false, "zero": false},
        "axis": {"orient": "right", "tickCount": 100, "values": [0, 1, 2, 3, 4, 5, 6, 7, 8, 9], "format": "d", "title": null, "labelFontSize": 5.5, "labelColor": "#222", "tickSize": 2, "tickColor": "#777", "domain": false, "grid": false, "labelPadding": 1, "labelOverlap": false}},
  "y2": {"datum": 9.58}}},
{"data": {"name": "ind"},
 "mark": {"type": "bar", "color": "#ad0a0a", "size": 5, "stroke": "#d04040", "strokeWidth": 0.5},
 "encoding": {"x": {"field": "t", "type": "quantitative"}, "y": {"field": "d", "type": "quantitative"}, "y2": {"datum": -0.67}}},
{"mark": {"type": "rule", "color": "#7a6ad0", "strokeWidth": 1, "strokeDash": [2, 2]},
 "encoding": {"x": {"datum": 80.25, "type": "quantitative"}, "x2": {"datum": 105}, "y": {"datum": 1, "type": "quantitative"}}},
{"data": {"name": "lab"}, "transform": [{"filter": "datum.p == 'd' && datum.k == 'hi'"}],
 "mark": {"type": "point", "shape": "M-1,-0.5L1,-0.5L1,0.5L-1,0.5Z", "size": 196, "filled": true, "fill": "#d2e9ec", "stroke": "#8aaeb4", "strokeWidth": 0.5, "opacity": 1, "yOffset": -5},
 "encoding": {"x": {"field": "t", "type": "quantitative"}, "y": {"field": "v", "type": "quantitative"}}},
{"data": {"name": "lab"}, "transform": [{"filter": "datum.p == 'd' && datum.k == 'hi'"}],
 "mark": {"type": "text", "fontSize": 5.5, "color": "#1d3340", "baseline": "middle", "align": "center", "dy": -5},
 "encoding": {"x": {"field": "t", "type": "quantitative"}, "y": {"field": "v", "type": "quantitative"}, "text": {"field": "v", "format": ".2f"}}},
{"data": {"name": "lab"}, "transform": [{"filter": "datum.p == 'd' && datum.k == 'lo'"}],
 "mark": {"type": "point", "shape": "M-1,-0.5L1,-0.5L1,0.5L-1,0.5Z", "size": 196, "filled": true, "fill": "#d2e9ec", "stroke": "#8aaeb4", "strokeWidth": 0.5, "opacity": 1, "yOffset": 5},
 "encoding": {"x": {"field": "t", "type": "quantitative"}, "y": {"field": "v", "type": "quantitative"}}},
{"data": {"name": "lab"}, "transform": [{"filter": "datum.p == 'd' && datum.k == 'lo'"}],
 "mark": {"type": "text", "fontSize": 5.5, "color": "#1d3340", "baseline": "middle", "align": "center", "dy": 5},
 "encoding": {"x": {"field": "t", "type": "quantitative"}, "y": {"field": "v", "type": "quantitative"}, "text": {"field": "v", "format": ".2f"}}},
{"mark": {"type": "text", "text": "$NADEC:$NAADV 3.47", "align": "left", "baseline": "middle", "dx": 6, "fontSize": 6, "color": "#222"},
 "encoding": {"x": {"datum": 0, "type": "quantitative"}, "y": {"datum": 9.15, "type": "quantitative"}}},
{"mark": {"type": "point", "shape": "M-1,-0.4L1,-0.4L1,0.4L-1,0.4Z", "size": 324, "filled": true, "fill": "#f6dede", "stroke": "#c02020", "strokeWidth": 0.8, "opacity": 1, "xOffset": 9},
 "encoding": {"x": {"datum": 105, "type": "quantitative"}, "y": {"datum": 3.47, "type": "quantitative"}}},
{"mark": {"type": "text", "text": "3.47", "align": "center", "baseline": "middle", "dx": 9, "fontSize": 6, "fontWeight": "bold", "color": "#6a0a0a"},
 "encoding": {"x": {"datum": 105, "type": "quantitative"}, "y": {"datum": 3.47, "type": "quantitative"}}}
]
}
]
}
